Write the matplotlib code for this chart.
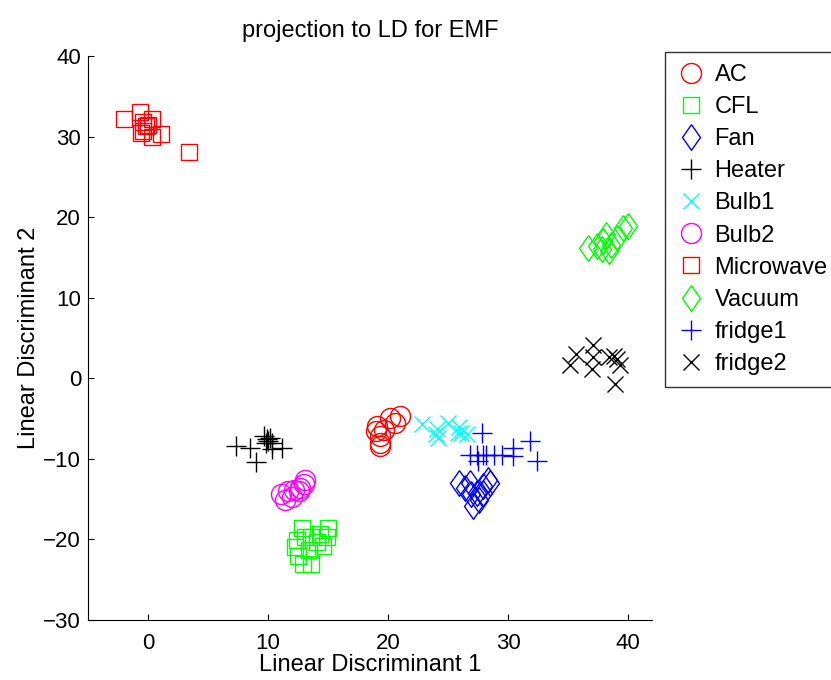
"""LDA projection scatter for EMF appliance signatures."""

import matplotlib
matplotlib.use('Agg')
import matplotlib.pyplot as plt

plt.rcParams['font.family'] = ['Liberation Sans', 'DejaVu Sans']

# Cluster points (LD1, LD2)
ac_x = [19.05, 19.3, 19.3, 20.2, 21.0, 19.7, 19.0, 20.6, 19.3]
ac_y = [-5.9, -7.2, -8.4, -4.9, -4.7, -6.4, -6.6, -5.5, -8.0]

cfl_x = [12.8, 12.4, 12.25, 12.5, 12.9, 13.6, 13.4, 14.1, 14.3, 14.9, 15.0, 14.6, 13.1, 13.6]
cfl_y = [-18.6, -20.1, -20.9, -22.0, -23.0, -23.0, -21.3, -20.3, -19.3, -19.7, -18.6, -20.8, -19.7, -19.7]

fan_x = [25.9, 26.4, 27.1, 27.4, 27.9, 28.5, 28.3, 26.9, 27.6, 27.9, 26.8]
fan_y = [-13.0, -13.6, -15.9, -14.25, -13.4, -13.0, -12.6, -14.3, -15.1, -14.25, -13.0]

heater_x = [7.3, 8.5, 9.0, 9.7, 10.0, 10.3, 11.2, 9.9, 10.2, 9.8, 10.3]
heater_y = [-8.4, -8.6, -10.4, -7.2, -7.8, -8.0, -8.6, -7.5, -7.4, -8.0, -8.8]

bulb1_x = [22.8, 24.05, 24.2, 25.0, 25.9, 26.1, 26.6, 24.0, 25.8]
bulb1_y = [-5.7, -6.3, -7.4, -5.5, -6.1, -6.75, -6.96, -6.9, -6.75]

bulb2_x = [11.1, 11.7, 12.2, 12.7, 13.1, 13.0, 12.6, 12.0, 11.4]
bulb2_y = [-14.3, -14.0, -13.9, -13.6, -12.6, -13.1, -14.0, -14.7, -15.1]

micro_x = [-2.0, -0.7, -0.4, 0.3, -0.4, 0.3, 1.1, 3.4, -0.2, 0.0, -0.6]
micro_y = [32.2, 33.0, 31.8, 32.2, 30.75, 29.9, 30.3, 28.1, 31.3, 31.5, 30.4]

vacuum_x = [36.7, 37.4, 37.9, 38.2, 38.6, 39.05, 39.6, 40.0, 37.8, 38.4]
vacuum_y = [16.2, 16.4, 17.0, 17.8, 16.6, 17.4, 18.7, 18.9, 16.0, 15.8]

fridge1_x = [27.8, 27.4, 27.9, 28.2, 27.5, 29.5, 30.4, 30.4, 31.8, 32.4, 26.8, 28.8]
fridge1_y = [-6.75, -9.5, -9.5, -9.5, -10.3, -9.5, -8.6, -9.7, -7.8, -10.3, -9.5, -9.5]

fridge2_x = [35.7, 35.2, 37.1, 37.1, 37.0, 38.8, 39.05, 39.3, 38.9, 38.4]
fridge2_y = [3.0, 1.6, 4.1, 2.6, 1.2, 2.8, 2.4, 1.6, -0.7, 2.6]

labels = ['AC', 'CFL', 'Fan', 'Heater', 'Bulb1', 'Bulb2',
          'Microwave', 'Vacuum', 'fridge1', 'fridge2']

# tall diamond like MATLAB's 'd'
diamond = [(0, 1), (0.7, 0), (0, -1), (-0.7, 0), (0, 1)]

series = [
    (ac_x, ac_y, 'o', 14.4, (1, 0, 0)),
    (cfl_x, cfl_y, 's', 11.5, (0, 1, 0)),
    (fan_x, fan_y, diamond, 18.5, (0, 0, 1)),
    (heater_x, heater_y, '+', 14.4, (0, 0, 0)),
    (bulb1_x, bulb1_y, 'x', 11.5, (0, 1, 1)),
    (bulb2_x, bulb2_y, 'o', 14.4, (1, 0, 1)),
    (micro_x, micro_y, 's', 11.5, (1, 0, 0)),
    (vacuum_x, vacuum_y, diamond, 18.5, (0, 1, 0)),
    (fridge1_x, fridge1_y, '+', 14.4, (0, 0, 1)),
    (fridge2_x, fridge2_y, 'x', 11.5, (0, 0, 0)),
]

fig = plt.figure(figsize=(8.31, 6.8), dpi=100)
ax = fig.add_axes([0.1059, 0.0882, 0.6787, 0.8294])

handles = []
for (x, y, m, ms, c), name in zip(series, labels):
    h, = ax.plot(x, y, linestyle='none', marker=m, markersize=ms,
                 markerfacecolor='none', markeredgecolor=c,
                 markeredgewidth=1.0, label=name)
    handles.append(h)

ax.set_xlim(-5, 42)
ax.set_ylim(-30, 40)
ax.set_xticks([0, 10, 20, 30, 40])
ax.set_yticks(range(-30, 41, 10))
ax.tick_params(direction='in', length=4, width=0.8, labelsize=16)
ax.tick_params(axis='x', pad=9)
ax.tick_params(axis='y', pad=5)
for side in ['top', 'right']:
    ax.spines[side].set_visible(False)
for side in ['left', 'bottom']:
    ax.spines[side].set_linewidth(0.8)

ax.set_xlabel('Linear Discriminant 1', fontsize=17, labelpad=0)
ax.set_ylabel('Linear Discriminant 2', fontsize=17, labelpad=2)
ax.set_title('projection to LD for EMF', fontsize=17, pad=14)

leg = fig.legend(handles=handles, loc='upper left',
                 bbox_to_anchor=(665 / 831, 1 - 52 / 680),
                 fontsize=17, frameon=True, fancybox=False,
                 borderpad=0.5, labelspacing=0.43, handlelength=1.2,
                 handletextpad=0.4, borderaxespad=0)
leg.get_frame().set_edgecolor('black')
leg.get_frame().set_linewidth(1.0)

fig.savefig('out.png', dpi=100)
plt.close(fig)
